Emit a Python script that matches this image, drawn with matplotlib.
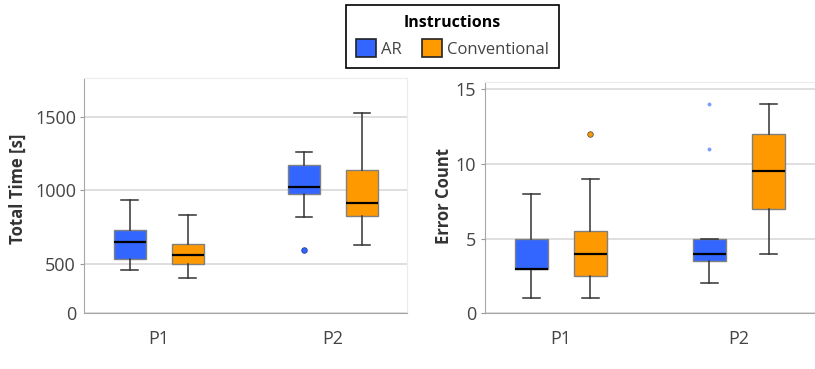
import numpy as np
import matplotlib.pyplot as plt
from matplotlib.patches import Patch

plt.rcParams["font.family"] = ["Open Sans", "DejaVu Sans"]

categories = ["P1", "P2"]
groups = ["AR", "Conventional"]

# total time [s], per category
time_ar_low = [459, 818]
time_ar_q1 = [529, 975]
time_ar_med = [650, 1020]
time_ar_q3 = [732, 1173]
time_ar_high = [932, 1264]
time_ar_out = [[], [591]]

time_conv_low = [402, 629]
time_conv_q1 = [500, 827]
time_conv_med = [557, 914]
time_conv_q3 = [632, 1139]
time_conv_high = [830, 1527]
time_conv_out = [[], []]

# error count, per category
err_ar_low = [1, 2]
err_ar_q1 = [3, 3.5]
err_ar_med = [3, 4]
err_ar_q3 = [5, 5]
err_ar_high = [8, 5]
err_ar_out = [[], [11, 14]]

err_conv_low = [1, 4]
err_conv_q1 = [2.5, 7]
err_conv_med = [4, 9.5]
err_conv_q3 = [5.5, 12]
err_conv_high = [9, 14]
err_conv_out = [[12], []]

time_ticks = [500, 1000, 1500]
err_ticks = [5, 10, 15]

BLUE = "#3366ff"
ORANGE = "#ff9900"
TEXT = "#444444"


def stats(low, q1, med, q3, high, out):
    return [
        dict(whislo=a, q1=b, med=c, q3=d, whishi=e, fliers=f)
        for a, b, c, d, e, f in zip(low, q1, med, q3, high, out)
    ]


def draw(ax, st, pos, color, fl_color, fl_edge, fl_size=4):
    w = 0.184
    ax.bxp(
        st, positions=pos, widths=w, patch_artist=True,
        capwidths=w * 0.52,
        boxprops=dict(facecolor=color, edgecolor="#808080", linewidth=1),
        medianprops=dict(color="black", linewidth=1.6),
        whiskerprops=dict(color="#333333", linewidth=1.1),
        capprops=dict(color="#333333", linewidth=1.1),
        flierprops=dict(marker="o", markersize=fl_size, markerfacecolor=fl_color,
                        markeredgecolor=fl_edge, markeredgewidth=0.6),
        zorder=3,
    )


x = np.arange(len(categories))
off = 0.166

fig = plt.figure(figsize=(8.15, 3.69), dpi=100)
ax1 = fig.add_axes([0.1034, 0.1518, 0.3963, 0.6369])
ax2 = fig.add_axes([0.5947, 0.151, 0.4053, 0.627])

draw(ax1, stats(time_ar_low, time_ar_q1, time_ar_med, time_ar_q3, time_ar_high, time_ar_out),
     x - off, BLUE, BLUE, "#1f3f9f")
draw(ax1, stats(time_conv_low, time_conv_q1, time_conv_med, time_conv_q3, time_conv_high, time_conv_out),
     x + off, ORANGE, ORANGE, "#555555")
draw(ax2, stats(err_ar_low, err_ar_q1, err_ar_med, err_ar_q3, err_ar_high, err_ar_out),
     x - off, BLUE, "#7d9bff", "#7d9bff", fl_size=2.2)
draw(ax2, stats(err_conv_low, err_conv_q1, err_conv_med, err_conv_q3, err_conv_high, err_conv_out),
     x + off, ORANGE, ORANGE, "#555555")

# left axis: bottom of the frame is labelled 0
ax1.set_ylim(163, 1766)
ax1.set_yticks([163] + time_ticks)
ax1.set_yticklabels(["0"] + [str(t) for t in time_ticks])
ax2.set_ylim(0, 15.5)
ax2.set_yticks([0] + err_ticks)
ax2.set_yticklabels(["0"] + [str(t) for t in err_ticks])

for ax, lab, lx, ly in [(ax1, "Total Time [s]", -0.178, 0.528),
                        (ax2, "Error Count", -0.096, 0.508)]:
    ax.set_xlim(-0.427, 1.426)
    ax.set_xticks(x)
    ax.set_xticklabels(categories)
    ax.tick_params(axis="x", length=0, pad=12, labelsize=13, labelcolor=TEXT)
    ax.tick_params(axis="y", length=3, color="#999999", labelsize=13,
                   labelcolor=TEXT, pad=3)
    ax.yaxis.grid(True, color="#d9d9d9", linewidth=1.2, zorder=0)
    ax.set_axisbelow(True)
    for s in ["left", "bottom"]:
        ax.spines[s].set_color("#a6a6a6")
    for s in ["top", "right"]:
        ax.spines[s].set_color("#ececec")
    ax.set_ylabel(lab, fontsize=12, fontweight="bold", color="#333333")
    ax.yaxis.set_label_coords(lx, ly)

ax1.get_yticklines()[0].set_visible(False)

handles = [Patch(facecolor=BLUE, edgecolor="#222222", linewidth=1.2),
           Patch(facecolor=ORANGE, edgecolor="#222222", linewidth=1.2)]
leg = fig.legend(handles, groups, title="Instructions", ncol=2,
                 loc="upper center", bbox_to_anchor=(0.555, 0.986),
                 borderaxespad=0,
                 fontsize=12, title_fontproperties=dict(weight="bold", size=11.5),
                 fancybox=False, edgecolor="black", framealpha=1,
                 handlelength=1.2, handleheight=1.2, handletextpad=0.3,
                 columnspacing=1.2, borderpad=0.6, labelcolor=TEXT)
leg.get_frame().set_linewidth(1.2)

plt.savefig("out.png", dpi=100)
